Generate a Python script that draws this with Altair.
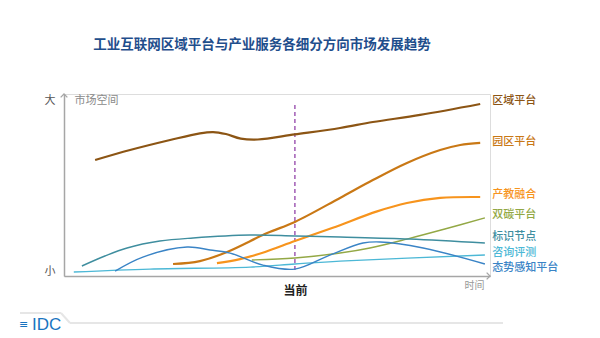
import altair as alt
import pandas as pd

FONT = "Noto Sans CJK SC"

# ---- data (time index 0-100, market space 0-100) ----
names = ["区域平台", "园区平台", "产教融合", "双碳平台", "标识节点", "咨询评测", "态势感知平台"]
colors = ["#8c5514", "#c97815", "#f7941d", "#93a845", "#3f8e9f", "#4cb8d6", "#3a84c6"]
widths = [2.2, 2.2, 2.2, 1.4, 1.4, 1.4, 1.4]

region_t = [7.3, 15.5, 24.9, 31.9, 35.0, 38.0, 41.5, 45.5, 54.2, 64.8, 72.5, 83.6, 97.7]
region_v = [63.7, 69.2, 74.7, 78.4, 79.1, 78.0, 75.5, 75.0, 77.8, 81.3, 84.6, 88.5, 94.5]

park_t = [25.6, 31.9, 38.3, 47.7, 54.2, 64.8, 72.5, 80.5, 88.3, 93.0, 97.7]
park_v = [6.6, 8.2, 13.2, 23.6, 29.7, 42.9, 52.7, 62.1, 69.2, 72.0, 73.1]

edu_t = [35.9, 41.3, 47.2, 54.2, 63.1, 73.5, 80.5, 88.3, 97.7]
edu_v = [7.1, 9.3, 13.2, 19.2, 26.5, 35.5, 40.1, 42.9, 43.4]

carbon_t = [44.1, 54.2, 64.8, 71.8, 80.5, 89.4, 98.8]
carbon_v = [8.8, 9.9, 12.6, 15.4, 20.3, 25.8, 31.9]

ident_t = [4.2, 9.6, 14.8, 22.5, 30.3, 43.7, 54.2, 64.8, 81.2, 98.8]
ident_v = [5.5, 11.0, 15.4, 19.2, 20.9, 22.5, 22.0, 21.4, 20.3, 18.1]

consult_t = [2.3, 20.2, 43.7, 54.2, 64.8, 98.8]
consult_v = [2.2, 3.8, 4.9, 6.6, 8.2, 11.5]

sense_t = [12.0, 18.5, 28.9, 34.3, 39.0, 46.7, 54.2, 62.4, 70.2, 74.2, 84.3, 98.8]
sense_v = [2.7, 10.4, 15.9, 14.3, 12.6, 6.0, 3.8, 11.5, 18.1, 18.7, 15.4, 6.6]

label_t = 100.5
label_v = [96.2, 73.6, 44.5, 33.5, 21.2, 12.8, 4.2]

current_t = 54.2
current_span = [3.3, 94.5]
axis_marks = [2.2, 96.7]  # positions of 小 / 大

series = [(region_t, region_v), (park_t, park_v), (edu_t, edu_v), (carbon_t, carbon_v),
          (ident_t, ident_v), (consult_t, consult_v), (sense_t, sense_v)]

xs = alt.Scale(domain=[0, 100], nice=False, zero=False)
ys = alt.Scale(domain=[0, 100], nice=False, zero=False)

x_axis = alt.Axis(values=[current_t], labelExpr="'当前'", grid=False, ticks=False,
                  domainColor="#a6a6a6", domainWidth=1.5, labelFont=FONT, labelFontSize=12,
                  labelFontWeight="bold", labelColor="#222222", labelPadding=9,
                  title="时间", titleFont=FONT, titleFontSize=10, titleFontWeight="normal",
                  titleColor="#999999", titleX=410, titleY=9, titleAlign="center",
                  titleBaseline="middle")
y_axis = alt.Axis(values=axis_marks, labelExpr="datum.value > 50 ? '大' : '小'", grid=False,
                  ticks=False, domainColor="#a6a6a6", domainWidth=1.5, labelFont=FONT,
                  labelFontSize=11, labelColor="#555555", labelPadding=9,
                  title="市场空间", titleFont=FONT, titleFontSize=11, titleFontWeight="normal",
                  titleColor="#8a8a8a", titleAngle=0, titleAlign="left", titleBaseline="middle",
                  titleX=10, titleY=6)

layers = []

# dashed "current" marker
cur_df = pd.DataFrame({"t": [current_t], "v0": [current_span[0]], "v1": [current_span[1]]})
layers.append(
    alt.Chart(cur_df).mark_rule(color="#a05cb4", strokeDash=[4, 3], strokeWidth=1.5).encode(
        x=alt.X("t:Q", scale=xs, axis=x_axis),
        y=alt.Y("v0:Q", scale=ys, axis=y_axis),
        y2="v1:Q",
    )
)

for name, color, w, (tt, vv) in zip(names, colors, widths, series):
    df = pd.DataFrame({"t": tt, "v": vv, "s": name})
    layers.append(
        alt.Chart(df).mark_line(color=color, strokeWidth=w, interpolate="catmull-rom").encode(
            x=alt.X("t:Q", scale=xs),
            y=alt.Y("v:Q", scale=ys),
        )
    )

lab_df = pd.DataFrame({"t": [label_t] * len(names), "v": label_v, "s": names})
layers.append(
    alt.Chart(lab_df).mark_text(align="left", baseline="middle", font=FONT, fontSize=11,
                                fontWeight=500).encode(
        x=alt.X("t:Q", scale=xs),
        y=alt.Y("v:Q", scale=ys),
        text="s:N",
        color=alt.Color("s:N", scale=alt.Scale(domain=names, range=colors), legend=None),
    )
)

# axis arrow heads
layers.append(
    alt.Chart(pd.DataFrame({"a": [0]})).mark_point(
        shape="M -1 1 L 0 0 L 1 1", size=45, filled=False, stroke="#a6a6a6", strokeWidth=1.3,
        opacity=1).encode(x=alt.value(0), y=alt.value(0))
)
layers.append(
    alt.Chart(pd.DataFrame({"a": [0]})).mark_point(
        shape="M -1 -1 L 0 0 L -1 1", size=45, filled=False, stroke="#a6a6a6", strokeWidth=1.3,
        opacity=1).encode(x=alt.value(426), y=alt.value(182))
)

# footer: IDC logo and rule
one = pd.DataFrame({"a": [0]})
layers.append(alt.Chart(one).mark_rule(color="#e6e6e6", strokeWidth=2).encode(
    x=alt.value(-44), x2=alt.value(-3), y=alt.value(219)))
layers.append(alt.Chart(one).mark_rule(color="#e6e6e6", strokeWidth=2).encode(
    x=alt.value(-3), x2=alt.value(6), y=alt.value(219), y2=alt.value(229)))
layers.append(alt.Chart(one).mark_rule(color="#e6e6e6", strokeWidth=2).encode(
    x=alt.value(6), x2=alt.value(439), y=alt.value(229)))
layers.append(alt.Chart(one).mark_text(text="≡", align="left", baseline="middle",
                                        font="DejaVu Sans", fontSize=11, color="#1a74c0").encode(
    x=alt.value(-45), y=alt.value(231)))
layers.append(alt.Chart(one).mark_text(text="IDC", align="left", baseline="middle",
                                        font="Liberation Sans", fontSize=17, color="#1a74c0").encode(
    x=alt.value(-32), y=alt.value(231)))

chart = alt.layer(*layers).properties(
    width=426,
    height=182,
    title=alt.TitleParams(
        text="工业互联网区域平台与产业服务各细分方向市场发展趋势",
        font=FONT, fontSize=13.5, fontWeight="bold", color="#1f4e8c",
        anchor="middle", dx=-15, offset=26, baseline="bottom",
    ),
    autosize=alt.AutoSizeParams(type="none"),
    padding={"left": 64, "top": 94, "right": 110, "bottom": 62},
).configure_view(stroke=None).configure(background="white")

chart.save("out.html", embed_options={"renderer": "svg", "actions": False})
